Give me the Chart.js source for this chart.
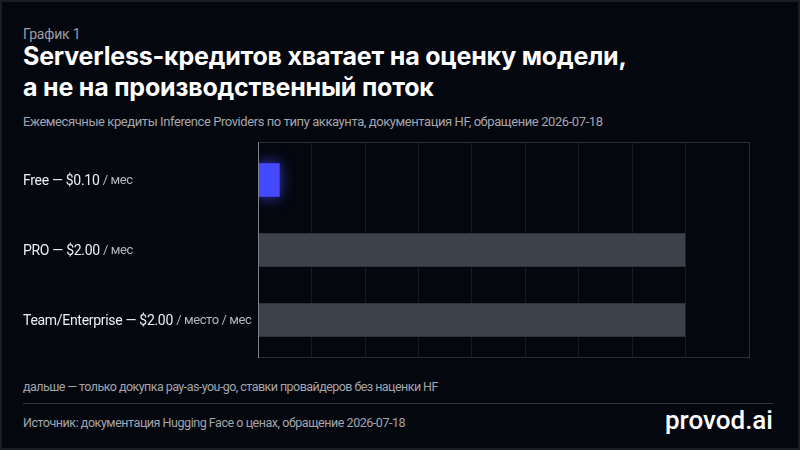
<!DOCTYPE html>
<html>
<head>
<meta charset="utf-8">
<script src="https://cdn.jsdelivr.net/npm/chart.js@4.4.1/dist/chart.umd.min.js"></script>
<style>
  html, body { margin: 0; padding: 0; }
  body { width: 800px; height: 450px; background: #05070f; position: relative; overflow: hidden; font-family: Roboto, "Noto Sans", sans-serif; }
  .frame { position: absolute; inset: 0; border: 2px solid #1b1d24; box-sizing: border-box; pointer-events: none; }
  .t { position: absolute; left: 23px; white-space: nowrap; }
  #kicker { top: 26px; font-size: 14px; color: #9c9ea6; letter-spacing: -0.2px; }
  #title { top: 41px; font-family: Inter, Roboto, sans-serif; font-size: 25px; font-weight: 700; color: #ffffff; line-height: 31px; letter-spacing: -0.2px; }
  #subtitle { top: 114px; font-size: 13px; color: #a3a5ac; letter-spacing: -0.42px; }
  #note { top: 379px; font-size: 12.5px; color: #a3a5ac; letter-spacing: -0.55px; }
  #rule { position: absolute; left: 23px; right: 27px; top: 403px; height: 1px; background: #34363d; }
  #source { top: 415px; font-size: 12.5px; color: #a3a5ac; letter-spacing: -0.46px; }
  #brand { position: absolute; right: 27px; top: 405px; font-size: 26px; font-weight: 500; color: #ffffff; }
  #wrap { position: absolute; left: 0; top: 130px; width: 800px; height: 240px; }
</style>
</head>
<body>
<div class="t" id="kicker">График 1</div>
<div class="t" id="title">Serverless-кредитов хватает на оценку модели,<br>а не на производственный поток</div>
<div class="t" id="subtitle">Ежемесячные кредиты Inference Providers по типу аккаунта, документация HF, обращение 2026-07-18</div>
<div id="wrap"><canvas id="chart"></canvas></div>
<div class="t" id="note">дальше — только докупка pay-as-you-go, ставки провайдеров без наценки HF</div>
<div id="rule"></div>
<div class="t" id="source">Источник: документация Hugging Face о ценах, обращение 2026-07-18</div>
<div id="brand">provod.ai</div>
<div class="frame"></div>
<script>
const plans = ['Free', 'PRO', 'Team/Enterprise'];
const planPrices = ['$0.10', '$2.00', '$2.00'];
const planUnits = ['/ мес', '/ мес', '/ место / мес'];
const credits = [0.10, 2.00, 2.00];
const highlighted = [true, false, false];

const freeValues = credits.map((v, i) => highlighted[i] ? v : null);
const paidValues = credits.map((v, i) => highlighted[i] ? null : v);

// plot frame sits 3px outside the category band
const framePad = 3;

const glow = {
    id: 'glow',
    beforeDatasetDraw(chart, args) {
        if (args.index === 0) {
            chart.ctx.save();
            chart.ctx.shadowColor = 'rgba(70, 80, 255, 0.75)';
            chart.ctx.shadowBlur = 14;
        }
    },
    afterDatasetDraw(chart, args) {
        if (args.index === 0) chart.ctx.restore();
    }
};

const gridFrame = {
    id: 'gridFrame',
    beforeDatasetsDraw(chart) {
        const { ctx, chartArea: a, scales } = chart;
        const top = a.top - framePad, bottom = a.bottom + framePad;
        ctx.save();
        ctx.lineWidth = 1;
        ctx.strokeStyle = '#161921';
        scales.x.ticks.forEach(t => {
            const x = Math.round(scales.x.getPixelForValue(t.value)) + 0.5;
            if (t.value === 0) return;
            ctx.beginPath();
            ctx.moveTo(x, top);
            ctx.lineTo(x, bottom);
            ctx.stroke();
        });
        ctx.strokeStyle = '#2a2d35';
        ctx.beginPath();
        ctx.moveTo(a.left, top + 0.5);
        ctx.lineTo(a.right + 0.5, top + 0.5);
        ctx.lineTo(a.right + 0.5, bottom - 0.5);
        ctx.lineTo(a.left, bottom - 0.5);
        ctx.stroke();
        ctx.restore();
    },
    afterDatasetsDraw(chart) {
        const { ctx, chartArea: a } = chart;
        ctx.save();
        ctx.strokeStyle = '#7d8089';
        ctx.lineWidth = 1;
        ctx.beginPath();
        ctx.moveTo(a.left + 0.5, a.top - framePad);
        ctx.lineTo(a.left + 0.5, a.bottom + framePad);
        ctx.stroke();
        ctx.restore();
    },
    afterDraw(chart) {
        const { ctx, scales } = chart;
        ctx.save();
        ctx.textBaseline = 'middle';
        plans.forEach((p, i) => {
            const y = scales.y.getPixelForValue(i) + 1;
            const main = p + ' — ' + planPrices[i] + ' ';
            ctx.font = '14px Roboto, "Noto Sans", sans-serif';
            ctx.letterSpacing = '-0.3px';
            ctx.fillStyle = '#eceef2';
            ctx.fillText(main, 23, y);
            const w = ctx.measureText(main).width;
            ctx.font = '13px Roboto, "Noto Sans", sans-serif';
            ctx.letterSpacing = '-0.4px';
            ctx.fillStyle = '#b4b6bd';
            ctx.fillText(planUnits[i], 23 + w, y);
        });
        ctx.restore();
    }
};

new Chart(document.getElementById('chart').getContext('2d'), {
    type: 'bar',
    data: {
        labels: plans,
        datasets: [{
            data: freeValues,
            backgroundColor: '#4549ff',
            borderWidth: 0,
            barThickness: 33,
            grouped: false,
        }, {
            data: paidValues,
            backgroundColor: '#3d4149',
            borderWidth: 0,
            barThickness: 33,
            grouped: false,
        }]
    },
    options: {
        indexAxis: 'y',
        responsive: true,
        maintainAspectRatio: false,
        animation: false,
        layout: { padding: { left: 258, right: 51, top: 15, bottom: 15 } },
        plugins: { legend: { display: false }, tooltip: { enabled: false } },
        scales: {
            x: {
                min: 0,
                max: 2.3,
                ticks: { display: false, stepSize: 0.25 },
                grid: { display: false, drawTicks: false },
                border: { display: false }
            },
            y: {
                ticks: { display: false },
                grid: { display: false, drawTicks: false },
                border: { display: false }
            }
        }
    },
    plugins: [glow, gridFrame]
});
</script>
</body>
</html>
